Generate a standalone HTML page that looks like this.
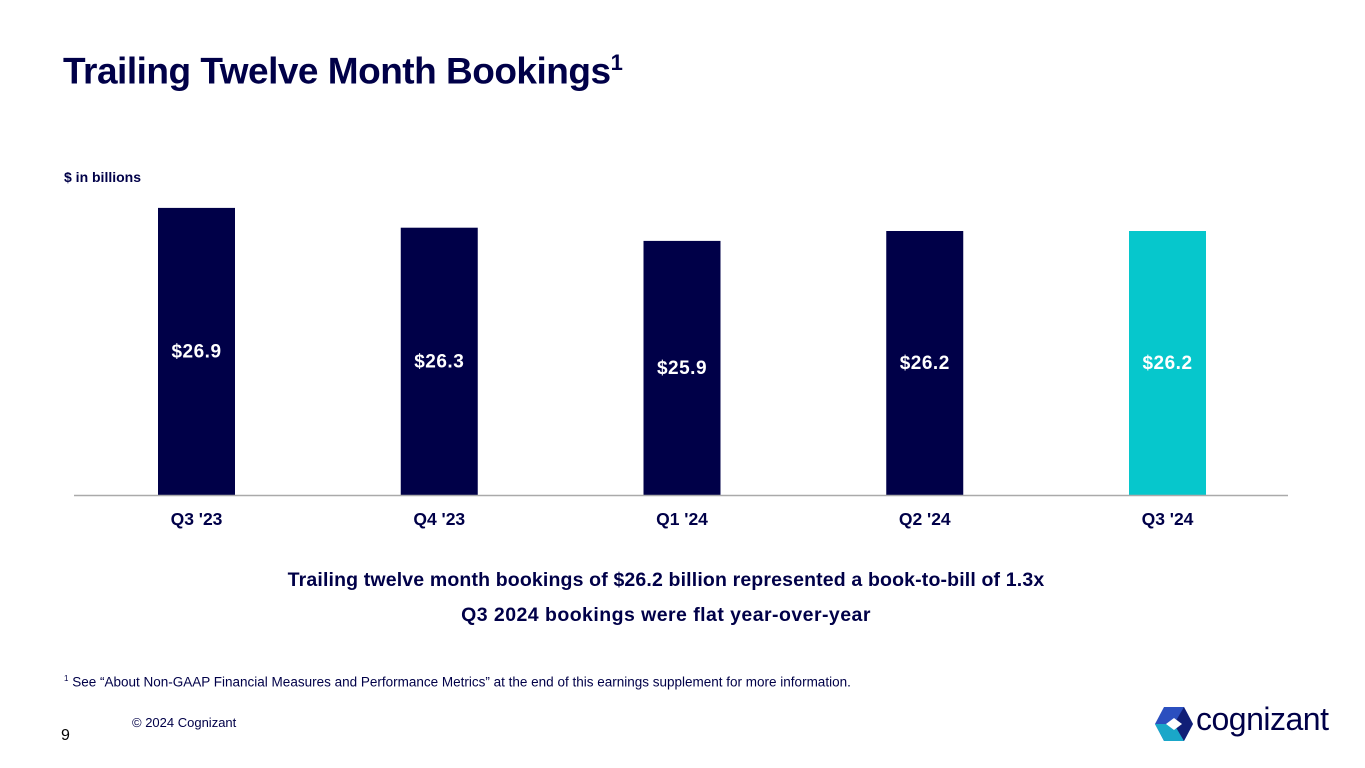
<!DOCTYPE html>
<html><head><meta charset="utf-8"><style>
body{margin:0;width:1365px;height:768px;background:#fff;font-family:"Liberation Sans",sans-serif;color:#000048;position:relative;overflow:hidden}
.abs{position:absolute}
</style></head><body>
<div class="abs" style="left:63px;top:50px;font-size:37px;font-weight:bold;letter-spacing:-0.5px">Trailing Twelve Month Bookings<sup style="font-size:22px">1</sup></div>
<div class="abs" style="left:64px;top:169px;font-size:14px;font-weight:bold">$ in billions</div>
<svg class="abs" style="left:0;top:0" width="1365" height="768">
<g id="bars"></g>
<line x1="74" x2="1288" y1="495.5" y2="495.5" stroke="#aaa" stroke-width="1.5"/>
</svg>
<div class="abs" style="left:0;width:1332px;text-align:center;top:569px;font-size:19.5px;letter-spacing:0.15px;font-weight:bold">Trailing twelve month bookings of $26.2 billion represented a book-to-bill of 1.3x</div>
<div class="abs" style="left:0;width:1332px;text-align:center;top:604px;font-size:19.5px;letter-spacing:0.45px;font-weight:bold">Q3 2024 bookings were flat year-over-year</div>
<div class="abs" style="left:64px;top:674px;font-size:13.5px;color:#000048"><sup style="font-size:8px">1</sup> See “About Non-GAAP Financial Measures and Performance Metrics” at the end of this earnings supplement for more information.</div>
<div class="abs" style="left:132px;top:715px;font-size:13px">© 2024 Cognizant</div>
<div class="abs" style="left:61px;top:727px;font-size:16px;color:#000">9</div>
<svg class="abs" style="left:1154px;top:705px" width="40" height="38">
<polygon points="10,2 30,2 39,19 30,36 10,36 1,19" fill="#2b4fbf"/>
<polygon points="1,19 10,36 30,36 20,19" fill="#1aa7c9"/>
<polygon points="20,19 30,2 39,19 30,36" fill="#000048" opacity="0.6"/>
<polygon points="12,19 20,13 28,19 20,25" fill="#fff"/>
</svg>
<div class="abs" style="left:1196px;top:701px;font-size:32px;letter-spacing:-0.5px">cognizant</div>
<script>
const categories=["Q3 '23","Q4 '23","Q1 '24","Q2 '24","Q3 '24"];
const values=[26.9,26.3,25.9,26.2,26.2];
const valueLabels=["$26.9","$26.3","$25.9","$26.2","$26.2"];
const NS="http://www.w3.org/2000/svg";
const base=495, yMin=18.2, pxPer=33;
function y(v){return base-(v-yMin)*pxPer;}
function xc(i){return 196.5+i*242.75;}
const g=document.getElementById('bars');
categories.forEach((c,i)=>{
  const top=y(values[i]);
  const r=document.createElementNS(NS,'rect');
  r.setAttribute('x',xc(i)-38.5);r.setAttribute('width',77);
  r.setAttribute('y',top);r.setAttribute('height',base-top);
  r.setAttribute('fill',i===categories.length-1?'#06c7cc':'#000048');
  
  
  g.appendChild(r);
  const t=document.createElementNS(NS,'text');
  t.setAttribute('x',xc(i));t.setAttribute('y',(top+base)/2+6);
  t.setAttribute('text-anchor','middle');t.setAttribute('fill','#fff');
  t.setAttribute('font-size','19');t.setAttribute('font-weight','bold');t.setAttribute('letter-spacing','0.5');
  t.textContent=valueLabels[i];
  
  
  g.appendChild(t);
  const l=document.createElementNS(NS,'text');
  l.setAttribute('x',xc(i));l.setAttribute('y',525);
  l.setAttribute('text-anchor','middle');l.setAttribute('fill','#000048');
  l.setAttribute('font-size','17.5');l.setAttribute('font-weight','bold');
  l.textContent=c;
  
  
  g.appendChild(l);
});
</script>
</body></html>
